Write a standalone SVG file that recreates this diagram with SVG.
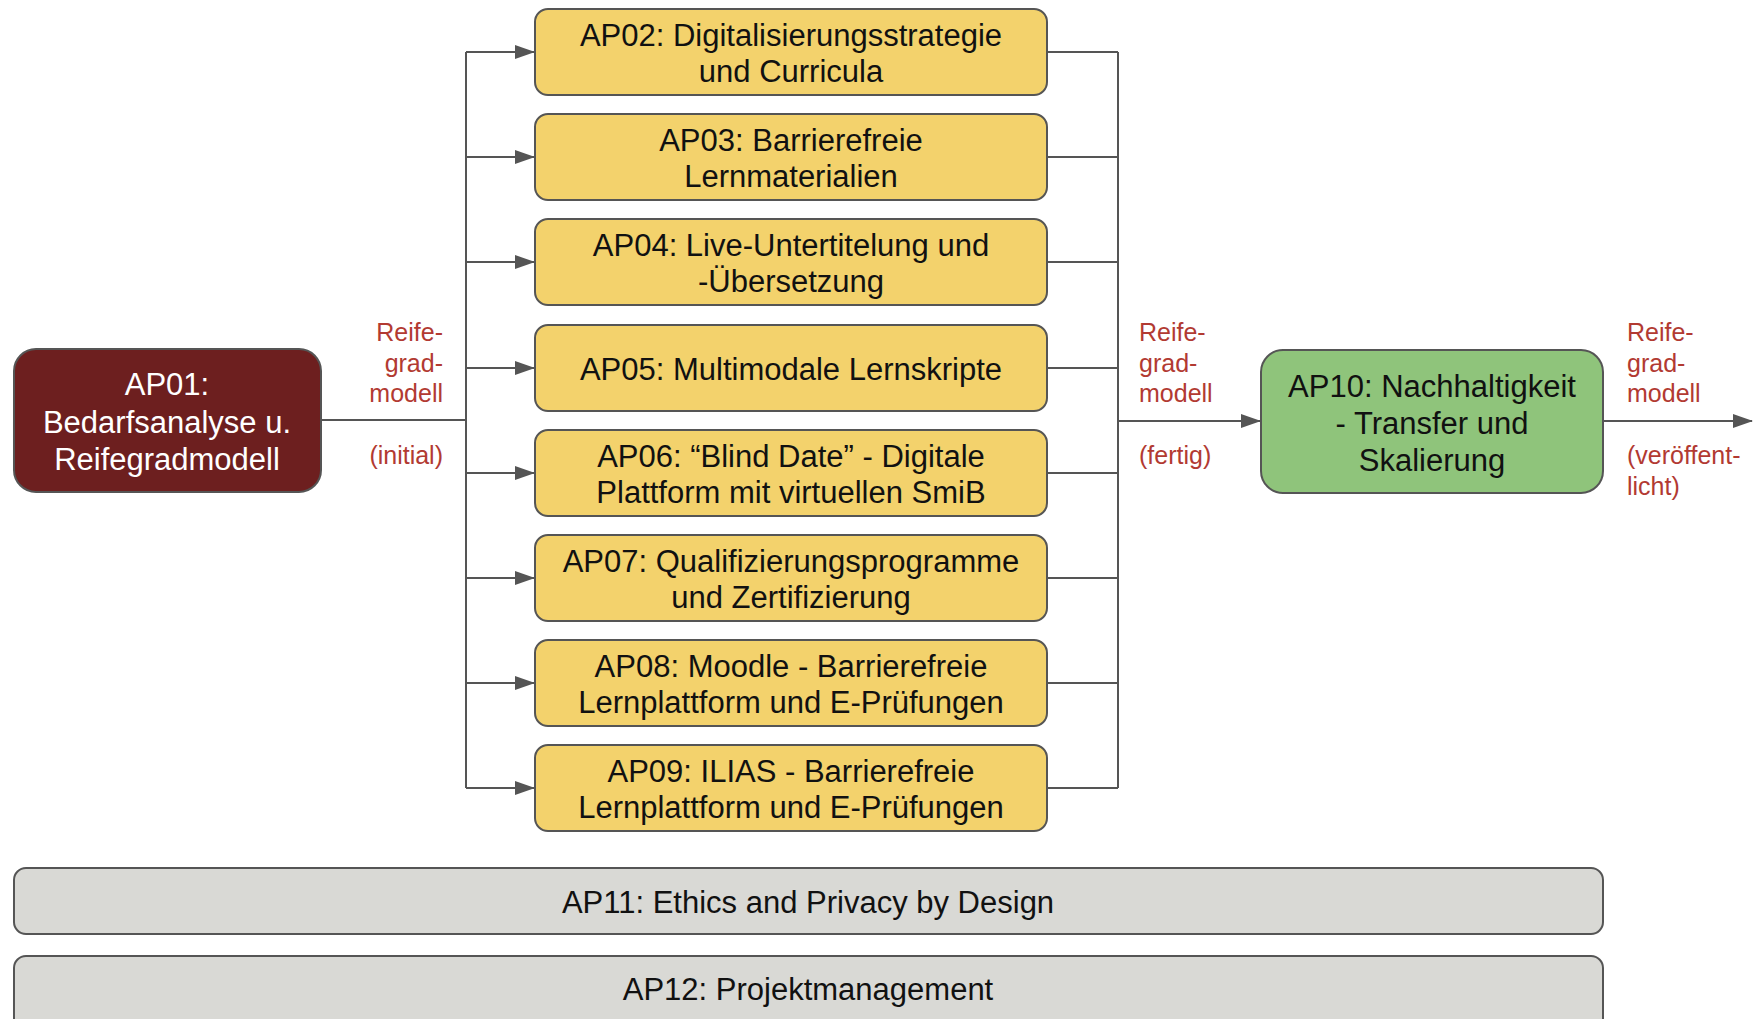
<svg xmlns="http://www.w3.org/2000/svg" width="1753" height="1019" viewBox="0 0 1753 1019">
<defs>
<marker id="arr" markerUnits="userSpaceOnUse" markerWidth="20" markerHeight="14" refX="19" refY="7" orient="auto">
<path d="M0,0 L20,7 L0,14 z" fill="#555"/>
</marker>
<style>
.t{font-family:"Liberation Sans",Arial,sans-serif;font-size:31px;text-anchor:middle;fill:#111}
.w{fill:#fff}
.lab{font-family:"Liberation Sans",Arial,sans-serif;font-size:25px;fill:#b23a32}
.y{fill:#f3d26c;stroke:#555;stroke-width:2}
.c{fill:none;stroke:#555;stroke-width:2}
</style>
</defs>
<rect width="1753" height="1019" fill="#fff"/>
<g id="connectors">
<path class="c" d="M321,420 H466 M466,52 V788 M1118,52 V788"/>
<path class="c" marker-end="url(#arr)" d="M466,52 H534"/>
<path class="c" marker-end="url(#arr)" d="M466,157 H534"/>
<path class="c" marker-end="url(#arr)" d="M466,262 H534"/>
<path class="c" marker-end="url(#arr)" d="M466,368 H534"/>
<path class="c" marker-end="url(#arr)" d="M466,473 H534"/>
<path class="c" marker-end="url(#arr)" d="M466,578 H534"/>
<path class="c" marker-end="url(#arr)" d="M466,683 H534"/>
<path class="c" marker-end="url(#arr)" d="M466,788 H534"/>
<path class="c" d="M1047,52 H1118 M1047,157 H1118 M1047,262 H1118 M1047,368 H1118 M1047,473 H1118 M1047,578 H1118 M1047,683 H1118 M1047,788 H1118"/>
<path class="c" marker-end="url(#arr)" d="M1118,421 H1260"/>
<path class="c" marker-end="url(#arr)" d="M1603,421 H1752"/>
<text class="lab" text-anchor="end"><tspan x="443" y="341">Reife-</tspan><tspan x="443" y="372">grad-</tspan><tspan x="443" y="402">modell</tspan><tspan x="443" y="464">(initial)</tspan></text>
<text class="lab"><tspan x="1139" y="341">Reife-</tspan><tspan x="1139" y="372">grad-</tspan><tspan x="1139" y="402">modell</tspan><tspan x="1139" y="464">(fertig)</tspan></text>
<text class="lab"><tspan x="1627" y="341">Reife-</tspan><tspan x="1627" y="372">grad-</tspan><tspan x="1627" y="402">modell</tspan><tspan x="1627" y="464">(veröffent-</tspan><tspan x="1627" y="495">licht)</tspan></text>
</g>
<g id="AP01">
<rect x="14" y="349" width="307" height="143" rx="22" fill="#6d1f1f" stroke="#555" stroke-width="2"/>
<text class="t w"><tspan x="167" y="395">AP01:</tspan><tspan x="167" y="433">Bedarfsanalyse u.</tspan><tspan x="167" y="470">Reifegradmodell</tspan></text>
</g>
<g id="AP02">
<rect class="y" x="535" y="9" width="512" height="86" rx="13"/>
<text class="t"><tspan x="791" y="46">AP02: Digitalisierungsstrategie</tspan><tspan x="791" y="82">und Curricula</tspan></text>
</g>
<g id="AP03">
<rect class="y" x="535" y="114" width="512" height="86" rx="13"/>
<text class="t"><tspan x="791" y="151">AP03: Barrierefreie</tspan><tspan x="791" y="187">Lernmaterialien</tspan></text>
</g>
<g id="AP04">
<rect class="y" x="535" y="219" width="512" height="86" rx="13"/>
<text class="t"><tspan x="791" y="256">AP04: Live-Untertitelung und</tspan><tspan x="791" y="292">-Übersetzung</tspan></text>
</g>
<g id="AP05">
<rect class="y" x="535" y="325" width="512" height="86" rx="13"/>
<text class="t"><tspan x="791" y="380">AP05: Multimodale Lernskripte</tspan></text>
</g>
<g id="AP06">
<rect class="y" x="535" y="430" width="512" height="86" rx="13"/>
<text class="t"><tspan x="791" y="467">AP06: “Blind Date” - Digitale</tspan><tspan x="791" y="503">Plattform mit virtuellen SmiB</tspan></text>
</g>
<g id="AP07">
<rect class="y" x="535" y="535" width="512" height="86" rx="13"/>
<text class="t"><tspan x="791" y="572">AP07: Qualifizierungsprogramme</tspan><tspan x="791" y="608">und Zertifizierung</tspan></text>
</g>
<g id="AP08">
<rect class="y" x="535" y="640" width="512" height="86" rx="13"/>
<text class="t"><tspan x="791" y="677">AP08: Moodle - Barrierefreie</tspan><tspan x="791" y="713">Lernplattform und E-Prüfungen</tspan></text>
</g>
<g id="AP09">
<rect class="y" x="535" y="745" width="512" height="86" rx="13"/>
<text class="t"><tspan x="791" y="782">AP09: ILIAS - Barrierefreie</tspan><tspan x="791" y="818">Lernplattform und E-Prüfungen</tspan></text>
</g>
<g id="AP10">
<rect x="1261" y="350" width="342" height="143" rx="22" fill="#8fc47b" stroke="#555" stroke-width="2"/>
<text class="t"><tspan x="1432" y="397">AP10: Nachhaltigkeit</tspan><tspan x="1432" y="434">- Transfer und</tspan><tspan x="1432" y="471">Skalierung</tspan></text>
</g>
<g id="AP11">
<rect x="14" y="868" width="1589" height="66" rx="12" fill="#d9d9d5" stroke="#555" stroke-width="2"/>
<text class="t"><tspan x="808" y="913">AP11: Ethics and Privacy by Design</tspan></text>
</g>
<g id="AP12">
<rect x="14" y="956" width="1589" height="80" rx="12" fill="#d9d9d5" stroke="#555" stroke-width="2"/>
<text class="t"><tspan x="808" y="1000">AP12: Projektmanagement</tspan></text>
</g>
</svg>
